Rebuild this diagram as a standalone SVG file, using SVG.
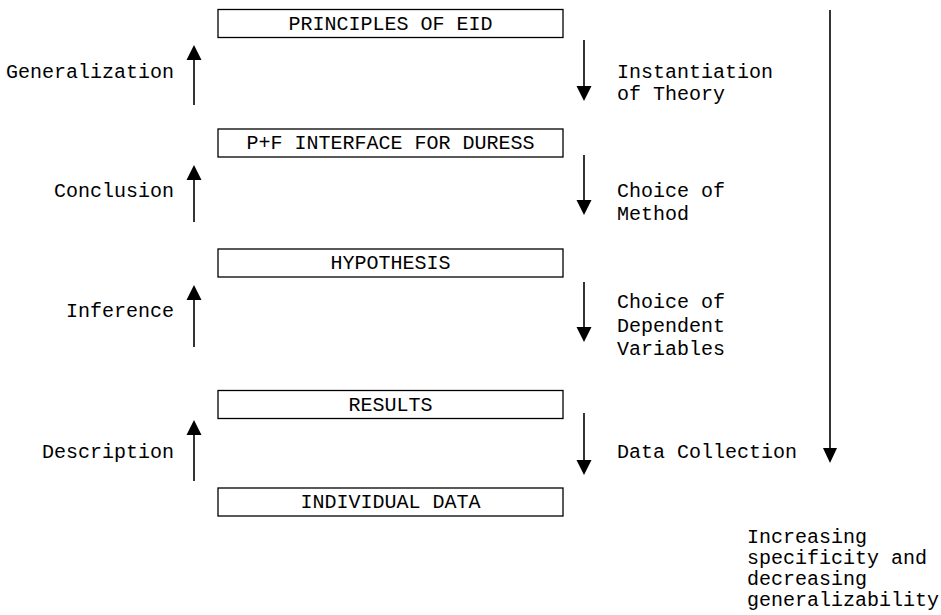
<svg xmlns="http://www.w3.org/2000/svg" width="941" height="615" viewBox="0 0 941 615">
<style>
text { font-family: "Liberation Mono", "Courier New", monospace; font-size: 20px; fill: #000; }
.box rect { fill: #fff; stroke: #000; stroke-width: 1.3; }
.box text { text-anchor: middle; }
.lbl { text-anchor: end; }
.conn line { stroke: #000; stroke-width: 1.6; }
.conn path { fill: #000; stroke: none; }
</style>
<rect width="941" height="615" fill="#fff"/>
<g id="principles" class="box"><rect x="218" y="9.5" width="345" height="28"/><text x="390.5" y="30">PRINCIPLES OF EID</text></g>
<g id="pf-interface" class="box"><rect x="218" y="129" width="345" height="28"/><text x="390.5" y="149">P+F INTERFACE FOR DURESS</text></g>
<g id="hypothesis" class="box"><rect x="218" y="249" width="345" height="28"/><text x="390.5" y="269">HYPOTHESIS</text></g>
<g id="results" class="box"><rect x="218" y="390.5" width="345" height="28"/><text x="390.5" y="410.5">RESULTS</text></g>
<g id="individual-data" class="box"><rect x="218" y="488" width="345" height="28"/><text x="390.5" y="508">INDIVIDUAL DATA</text></g>
<g id="connectors" class="conn">
  <line x1="194" y1="105" x2="194" y2="58"/><path d="M194 45 L201.5 60 L186.5 60 Z"/>
  <line x1="194" y1="222" x2="194" y2="178"/><path d="M194 165 L201.5 180 L186.5 180 Z"/>
  <line x1="194" y1="347" x2="194" y2="298"/><path d="M194 285 L201.5 300 L186.5 300 Z"/>
  <line x1="194" y1="481" x2="194" y2="433"/><path d="M194 420 L201.5 435 L186.5 435 Z"/>
  <line x1="584" y1="40" x2="584" y2="88"/><path d="M584 101 L591.5 86 L576.5 86 Z"/>
  <line x1="584" y1="155" x2="584" y2="202"/><path d="M584 215 L591.5 200 L576.5 200 Z"/>
  <line x1="584" y1="282" x2="584" y2="329"/><path d="M584 342 L591.5 327 L576.5 327 Z"/>
  <line x1="584" y1="413" x2="584" y2="462"/><path d="M584 475 L591.5 460 L576.5 460 Z"/>
  <line x1="830" y1="10" x2="830" y2="450"/><path d="M830 463 L837 448 L823 448 Z"/>
</g>
<g id="labels">
  <text class="lbl" x="174" y="78">Generalization</text>
  <text class="lbl" x="174" y="197">Conclusion</text>
  <text class="lbl" x="174" y="317">Inference</text>
  <text class="lbl" x="174" y="458">Description</text>
  <text x="617" y="78">Instantiation</text>
  <text x="617" y="100">of Theory</text>
  <text x="617" y="197">Choice of</text>
  <text x="617" y="220">Method</text>
  <text x="617" y="308">Choice of</text>
  <text x="617" y="332">Dependent</text>
  <text x="617" y="355">Variables</text>
  <text x="617" y="458">Data Collection</text>
  <text x="747" y="543">Increasing</text>
  <text x="747" y="564">specificity and</text>
  <text x="747" y="585">decreasing</text>
  <text x="747" y="606">generalizability</text>
</g>
</svg>
